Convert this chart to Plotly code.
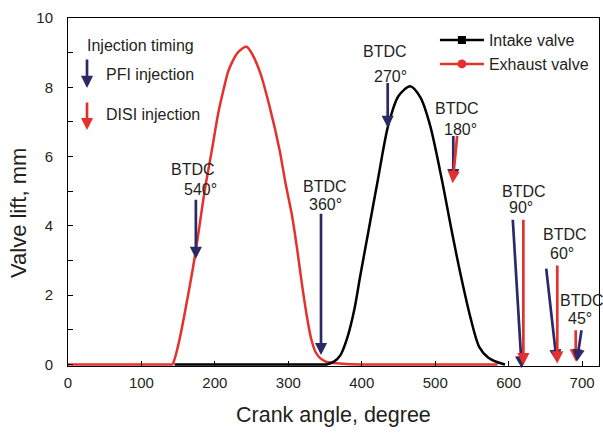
import plotly.graph_objects as go

# ---- data ----
exhaust_x = [0, 60, 120, 138, 142, 150, 160, 173, 186, 196, 205, 212, 218, 224, 232, 243, 251, 262, 275,
             288, 296, 305, 312, 318, 325, 331, 337, 343, 352, 370, 398, 430, 500, 585]
exhaust_y = [0, 0, 0, 0, 0, 0.55, 1.6, 3.15, 5.0, 6.2, 7.3, 7.95, 8.45, 8.75, 9.02, 9.17, 8.95, 8.4, 7.4,
             6.2, 5.25, 4.3, 3.33, 2.4, 1.42, 0.75, 0.36, 0.19, 0.07, 0.03, 0, 0, 0, 0]

intake_x = [145, 220, 300, 340, 352, 362, 371, 380, 390, 398, 410, 422, 436, 450, 466, 480, 493, 509, 522,
            535, 548, 560, 572, 584, 595]
intake_y = [0, 0, 0, 0, 0, 0.08, 0.27, 0.75, 1.6, 2.57, 3.95, 5.34, 6.9, 7.75, 8.03, 7.7, 6.9, 5.34, 3.9,
            2.55, 1.35, 0.5, 0.2, 0.07, 0]

# injection arrows: (kind, tail_x, tail_y, tip_x, tip_y)
arrow_kind   = ["PFI", "PFI", "PFI", "PFI", "DISI", "PFI", "DISI", "PFI", "DISI", "DISI", "PFI"]
arrow_tail_x = [174.1, 344.5, 435.3, 524.6, 530.1, 605.5, 620.0, 650.9, 666.2, 691.3, 699.5]
arrow_tail_y = [4.80, 4.39, 8.17, 6.64, 6.64, 4.22, 4.22, 2.81, 2.90, 1.03, 1.03]
arrow_tip_x  = [174.1, 344.5, 435.3, 524.6, 523.6, 617.8, 620.0, 665.4, 666.2, 691.3, 692.7]
arrow_tip_y  = [3.05, 0.27, 6.83, 5.29, 5.23, -0.11, -0.02, 0.08, 0.03, 0.09, 0.08]

# BTDC labels
label_top   = ["BTDC"] * 7
label_angle = ["540°", "360°", "270°", "180°", "90°", "60°", "45°"]
label_x1 = [170.6, 350.0, 431.6, 529.3, 621.3, 676.7, 700.3]
label_y1 = [5.63, 5.15, 9.02, 7.40, 5.00, 3.76, 1.85]
label_x2 = [180.0, 350.0, 438.5, 533.8, 616.8, 672.2, 697.1]
label_y2 = [5.06, 4.63, 8.31, 6.78, 4.53, 3.19, 1.32]

x_ticks = [0, 100, 200, 300, 400, 500, 600, 700]
y_ticks = [0, 2, 4, 6, 8, 10]

RED = "#E5312E"
NAVY = "#2B2A66"
TXT = "#231F20"
FONT = "Liberation Sans, Arial, sans-serif"

fig = go.Figure()
fig.add_trace(go.Scatter(x=exhaust_x, y=exhaust_y, mode="lines", showlegend=False,
                         line=dict(color=RED, width=2.5, shape="spline", smoothing=0.8)))
fig.add_trace(go.Scatter(x=intake_x, y=intake_y, mode="lines", showlegend=False,
                         line=dict(color="black", width=2.5, shape="spline", smoothing=0.8)))
# legend entries
fig.add_trace(go.Scatter(x=[None], y=[None], mode="lines+markers", name="Intake valve",
                         line=dict(color="black", width=2.5),
                         marker=dict(symbol="square", size=8, color="black")))
fig.add_trace(go.Scatter(x=[None], y=[None], mode="lines+markers", name="Exhaust valve",
                         line=dict(color=RED, width=2.5),
                         marker=dict(symbol="circle", size=9, color=RED)))

anns = []
for k, tx, ty, hx, hy in zip(arrow_kind, arrow_tail_x, arrow_tail_y, arrow_tip_x, arrow_tip_y):
    c = NAVY if k == "PFI" else RED
    anns.append(dict(x=hx, y=hy, ax=tx, ay=ty, xref="x", yref="y", axref="x", ayref="y",
                     text="", showarrow=True, arrowhead=2, arrowsize=0.9, arrowwidth=2.7,
                     arrowcolor=c, standoff=0, startstandoff=0))
for t1, t2, x1, y1, x2, y2 in zip(label_top, label_angle, label_x1, label_y1, label_x2, label_y2):
    anns.append(dict(x=x1, y=y1, xref="x", yref="y", text=t1, showarrow=False,
                     font=dict(size=16, color=TXT, family=FONT)))
    anns.append(dict(x=x2, y=y2, xref="x", yref="y", text=t2, showarrow=False,
                     font=dict(size=16, color=TXT, family=FONT)))

# injection timing key (paper coordinates)
anns.append(dict(x=0.1356, y=0.922, xref="paper", yref="paper", text="Injection timing",
                 xanchor="center", yanchor="middle",
                 showarrow=False, font=dict(size=16, color=TXT, family=FONT)))
anns.append(dict(x=0.0358, y=0.799, ax=0, ay=-30, xref="paper", yref="paper",
                 text="", showarrow=True, arrowhead=2,
                 arrowsize=0.9, arrowwidth=2.7, arrowcolor=NAVY, standoff=0))
anns.append(dict(x=0.0678, y=0.839, xref="paper", yref="paper", text="PFI injection",
                 xanchor="left", yanchor="middle", showarrow=False,
                 font=dict(size=16, color=TXT, family=FONT)))
anns.append(dict(x=0.0358, y=0.678, ax=0, ay=-29, xref="paper", yref="paper",
                 text="", showarrow=True, arrowhead=2,
                 arrowsize=0.9, arrowwidth=2.7, arrowcolor=RED, standoff=0))
anns.append(dict(x=0.0678, y=0.724, xref="paper", yref="paper", text="DISI injection",
                 xanchor="left", yanchor="middle", showarrow=False,
                 font=dict(size=16, color=TXT, family=FONT)))

# axis titles (placed as in the reference)
anns.append(dict(x=0.5, y=-0.141, xref="paper", yref="paper", text="Crank angle, degree",
                 xanchor="center", yanchor="middle", showarrow=False,
                 font=dict(size=21.5, color=TXT, family=FONT)))
anns.append(dict(x=-0.092, y=0.44, xref="paper", yref="paper", text="Valve lift, mm",
                 textangle=-90, xanchor="center", yanchor="middle", showarrow=False,
                 font=dict(size=22, color=TXT, family=FONT)))

fig.update_layout(
    width=603, height=435,
    margin=dict(l=68, r=4, t=18, b=69),
    paper_bgcolor="white", plot_bgcolor="white",
    font=dict(family=FONT, color=TXT, size=15),
    annotations=anns,
    showlegend=True,
    legend=dict(x=0.691, y=0.985, xanchor="left", yanchor="top",
                bgcolor="rgba(0,0,0,0)", font=dict(size=16, color=TXT, family=FONT),
                tracegroupgap=0, itemwidth=44),
    xaxis=dict(range=[0, 723], tickvals=x_ticks, ticks="inside", ticklen=5, tickcolor="black",
               showline=True, linecolor="black", linewidth=1, mirror=True, showgrid=False,
               zeroline=False, tickfont=dict(size=15, color=TXT), ticklabelstandoff=3),
    yaxis=dict(range=[-0.045, 10], tickvals=y_ticks, ticks="inside", ticklen=5, tickcolor="black",
               minor=dict(dtick=1, ticks="inside", ticklen=5, tickcolor="black"),
               showline=True, linecolor="black", linewidth=1, mirror=True, showgrid=False,
               zeroline=False, tickfont=dict(size=15, color=TXT), ticklabelstandoff=11),
)

fig.write_html("out.html")
